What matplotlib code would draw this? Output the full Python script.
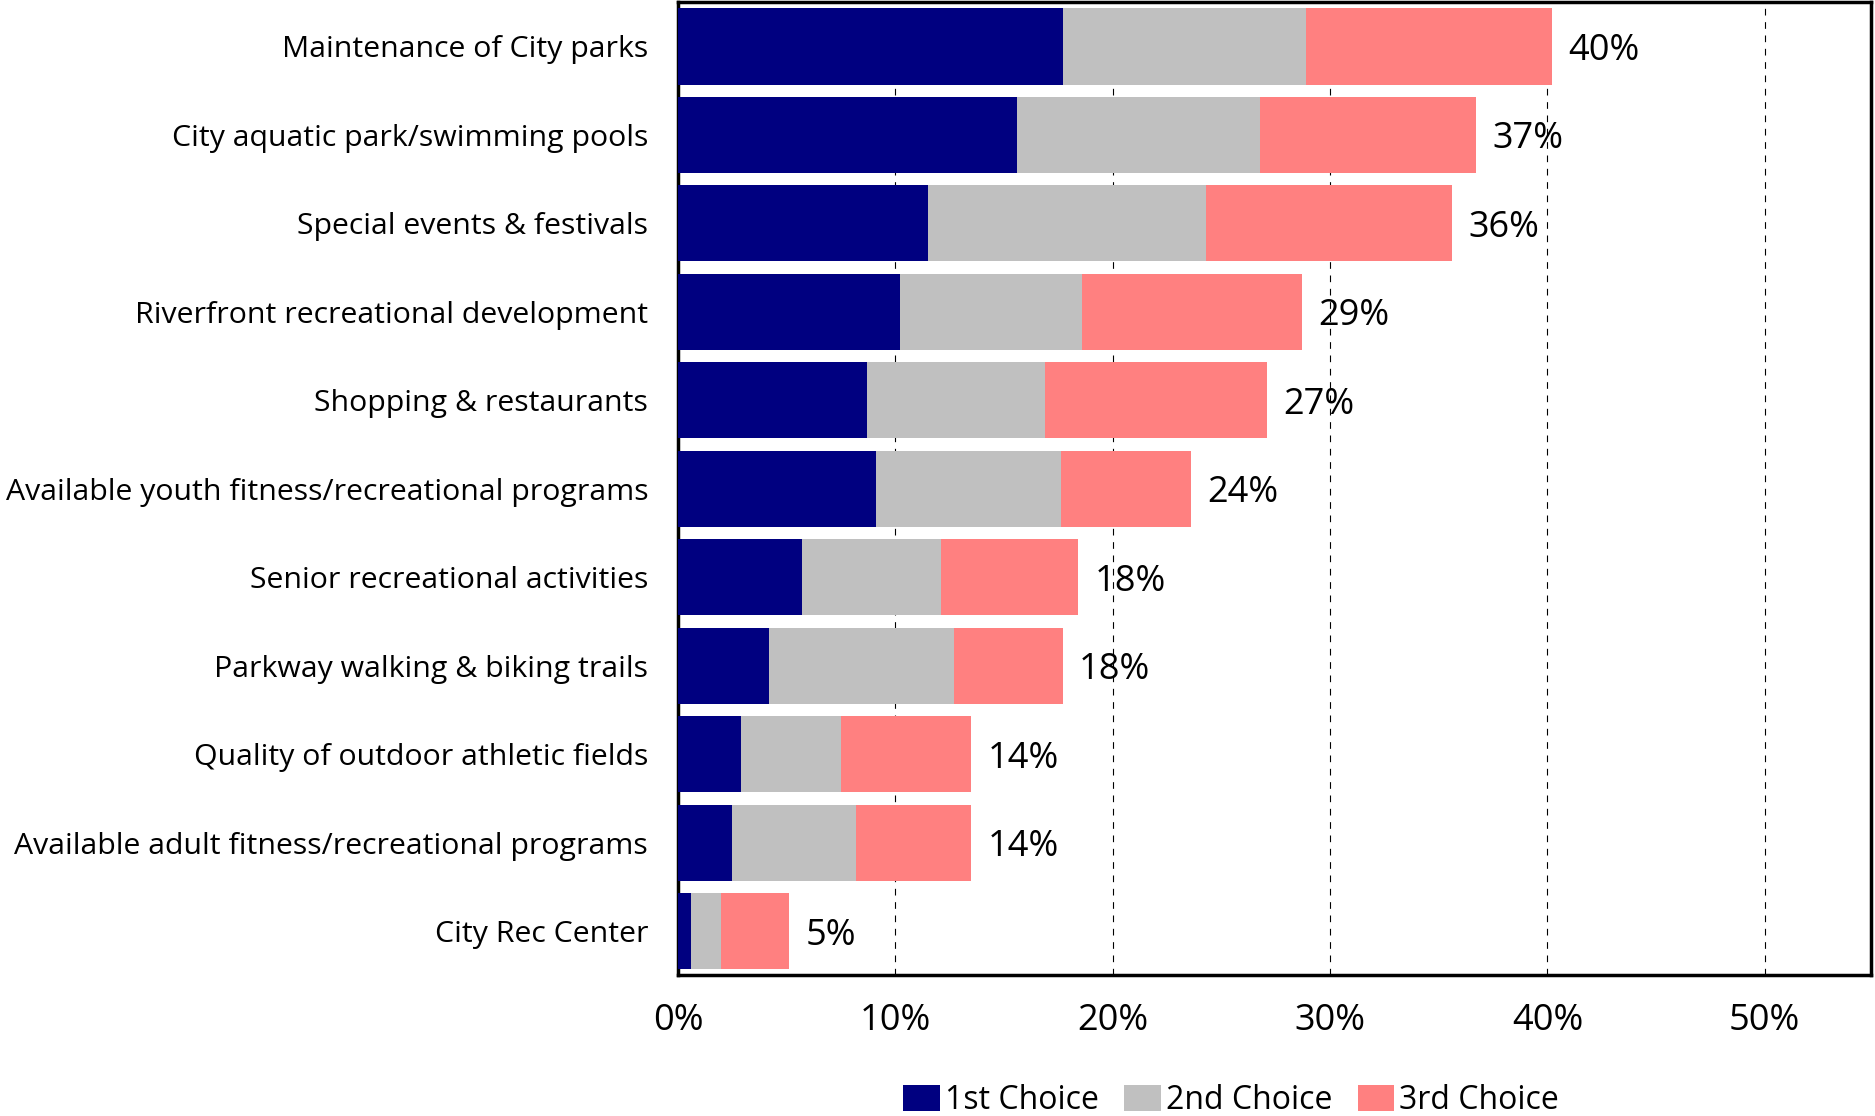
import matplotlib
matplotlib.use("Agg")
import matplotlib.pyplot as plt
import numpy as np

categories = [
    "Maintenance of City parks",
    "City aquatic park/swimming pools",
    "Special events & festivals",
    "Riverfront recreational development",
    "Shopping & restaurants",
    "Available youth fitness/recreational programs",
    "Senior recreational activities",
    "Parkway walking & biking trails",
    "Quality of outdoor athletic fields",
    "Available adult fitness/recreational programs",
    "City Rec Center",
]
first = [17.7, 15.6, 11.5, 10.2, 8.7, 9.1, 5.7, 4.2, 2.9, 2.5, 0.6]
second = [11.2, 11.2, 12.8, 8.4, 8.2, 8.5, 6.4, 8.5, 4.6, 5.7, 1.4]
third = [11.3, 9.9, 11.3, 10.1, 10.2, 6.0, 6.3, 5.0, 6.0, 5.3, 3.1]
total_labels = ["40%", "37%", "36%", "29%", "27%", "24%", "18%", "18%", "14%", "14%", "5%"]
series_names = ["1st Choice", "2nd Choice", "3rd Choice"]
colors = ["#000080", "#C0C0C0", "#FF8080"]
xticks = [0, 10, 20, 30, 40, 50]

plt.rcParams['font.family'] = ['Open Sans', 'DejaVu Sans']

fig = plt.figure(figsize=(18.75, 11.16), dpi=100)
ax = fig.add_axes([0.3616, 0.126, 0.6364, 0.872])

y = np.arange(len(categories))
f = np.array(first); s = np.array(second); t = np.array(third)
h = 0.86
ax.barh(y, f, height=h, color=colors[0], label=series_names[0], zorder=3)
ax.barh(y, s, left=f, height=h, color=colors[1], label=series_names[1], zorder=3)
ax.barh(y, t, left=f + s, height=h, color=colors[2], label=series_names[2], zorder=3)

for yi, tot, lab in zip(y, f + s + t, total_labels):
    ax.text(tot + 0.75, yi, lab, va='center_baseline', ha='left', fontsize=26)

ax.set_xlim(0, 54.9)
ax.set_ylim(len(categories) - 0.5, -0.5)
ax.set_yticks(y)
ax.set_yticklabels(categories, fontsize=21.8, va='center_baseline')
ax.set_xticks(xticks)
ax.set_xticklabels([f"{v}%" for v in xticks], fontsize=26)
ax.tick_params(axis='y', length=0, pad=21.5)
ax.tick_params(axis='x', length=0, pad=20)
ax.xaxis.grid(True, linestyle=(0, (6, 6)), color='black', linewidth=0.8, zorder=0)
ax.set_axisbelow(True)
for sp in ax.spines.values():
    sp.set_linewidth(2.5)
    sp.set_color('black')

leg = fig.legend(loc='center', bbox_to_anchor=(0.6566, 0.014), ncol=3, frameon=False,
                 fontsize=23, handlelength=1.15, handleheight=0.9, handletextpad=0.15,
                 columnspacing=0.8)

fig.savefig("out.png", dpi=100)
